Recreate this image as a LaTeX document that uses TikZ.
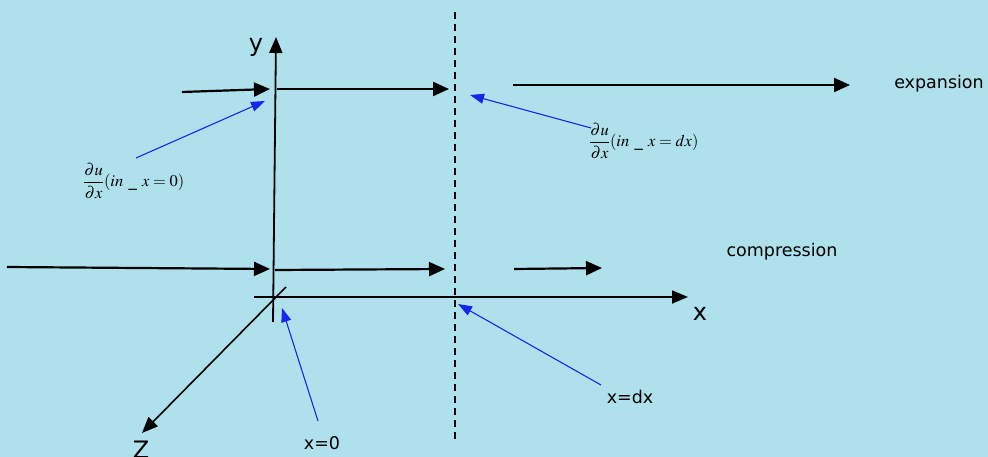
\documentclass[tikz,border=0pt]{standalone}
\usepackage{mathptmx}
\usepackage{fontspec}
\setmainfont{DejaVu Sans}
\usetikzlibrary{arrows.meta}
\definecolor{water}{RGB}{174,225,235}
\definecolor{bluearrow}{RGB}{20,40,235}
\begin{document}
\begin{tikzpicture}[x=1pt,y=-1pt,
  flow/.style={line width=2.2pt,-{Triangle[length=16pt,width=14pt]}},
  axis/.style={line width=1.8pt,-{Triangle[length=16pt,width=13pt]}},
  pointer/.style={bluearrow,line width=1.1pt,-{Triangle[length=14pt,width=10pt]}},
  lbl/.style={font=\fontsize{17.5}{20}\selectfont,inner sep=0pt},
  axlbl/.style={font=\fontsize{24}{26}\selectfont,inner sep=0pt},
  mlbl/.style={font=\fontsize{16.5}{19}\selectfont,inner sep=0pt,anchor=west}]
\fill[water] (0,0) rectangle (988,457);
\useasboundingbox (0,0) rectangle (988,457);
% axes
\coordinate (ybot) at (273,322);
\coordinate (ytop) at (276,37);
\coordinate (xl) at (254,297);
\coordinate (xr) at (688,297);
\coordinate (zs) at (286,287);
\coordinate (zt) at (142,433);
\draw[axis] (ybot) -- (ytop);
\draw[axis] (xl) -- (xr);
\draw[line width=1.6pt,-{Triangle[length=16pt,width=13pt]}] (zs) -- (zt);
\node[axlbl] (ylab) at (256,47) {y};
\node[axlbl] (xlab) at (700,314) {x};
\node[axlbl] (zlab) at (141,450) {Z};
% dashed line
\coordinate (dtop) at (455,12);
\coordinate (dbot) at (455,440);
\draw[line width=1.2pt,dash pattern=on 7pt off 5pt] (dtop) -- (dbot);
% top flow arrows
\coordinate (a1) at (182,92);
\coordinate (a2) at (270,89);
\coordinate (a3) at (277,89);
\coordinate (a4) at (449,89);
\coordinate (a5) at (513,85);
\coordinate (a6) at (850,85);
\draw[flow] (a1) -- (a2);
\draw[flow] (a3) -- (a4);
\draw[flow] (a5) -- (a6);
% bottom flow arrows
\coordinate (b1) at (7,267);
\coordinate (b2) at (270,269);
\coordinate (b3) at (275,270);
\coordinate (b4) at (445,269);
\coordinate (b5) at (514,269);
\coordinate (b6) at (602,268);
\draw[flow] (b1) -- (b2);
\draw[flow] (b3) -- (b4);
\draw[flow] (b5) -- (b6);
% text labels
\node[lbl] (exp) at (939,84) {expansion};
\node[lbl] (comp) at (782,252) {compression};
\node[lbl] (xdx) at (630,397) {x=dx};
\node[lbl] (x0) at (322,443) {x=0};
\node[mlbl] (m0) at (83,181) {$\displaystyle\frac{\partial u\rule[-3pt]{0pt}{3pt}}{\partial x\rule{0pt}{12pt}}(in\ \_\ x=0)$};
\node[mlbl] (mdx) at (589,141) {$\displaystyle\frac{\partial u\rule[-3pt]{0pt}{3pt}}{\partial x\rule{0pt}{12pt}}(in\ \_\ x=dx)$};
% blue pointers
\coordinate (p1s) at (136,158);
\coordinate (p1e) at (265,101);
\coordinate (p2s) at (591,128);
\coordinate (p2e) at (470,95);
\coordinate (p3s) at (318,421);
\coordinate (p3e) at (282,308);
\coordinate (p4s) at (601,385);
\coordinate (p4e) at (458,304);
\draw[pointer] (p1s) -- (p1e);
\draw[pointer] (p2s) -- (p2e);
\draw[pointer] (p3s) -- (p3e);
\draw[pointer] (p4s) -- (p4e);
\end{tikzpicture}
\end{document}
